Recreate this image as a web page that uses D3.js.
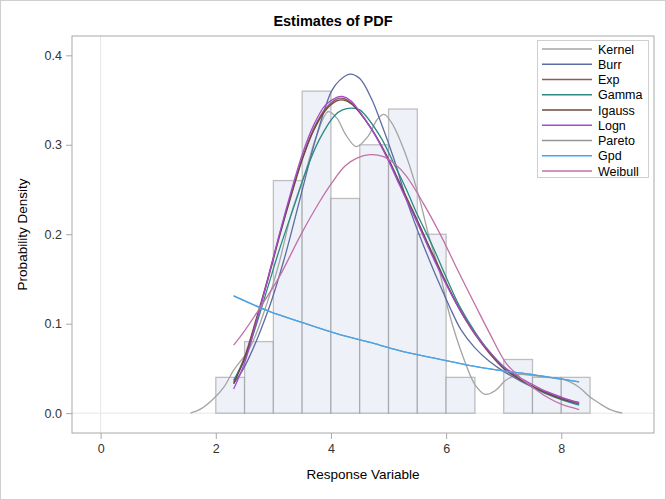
<!DOCTYPE html>
<html><head><meta charset="utf-8">
<script src="https://cdn.jsdelivr.net/npm/d3@7"></script>
<style>body{margin:0;background:#fff}svg{display:block}</style>
</head><body>
<svg id="c" width="666" height="500"></svg>
<script>
const binStart = [2,2.5,3,3.5,4,4.5,5,5.5,6,6.5,7,7.5,8];
const binHeight = [0.04,0.08,0.26,0.36,0.24,0.30,0.34,0.20,0.04,0,0.06,0.04,0.04];
const binWidth = 0.5;

const kernelX = [1.56,1.75,1.96,2.15,2.31,2.6,2.89,3.1,3.32,3.55,3.75,3.95,4.1,4.25,4.44,4.65,4.8,4.92,5.05,5.31,5.54,5.7,5.89,6.06,6.3,6.5,6.68,6.85,7.04,7.25,7.5,7.75,7.97,8.15,8.31,8.5,8.66,8.85,9.06];
const kernelY = [0.0,0.005,0.016,0.030,0.048,0.074,0.123,0.168,0.225,0.268,0.310,0.337,0.330,0.312,0.298,0.310,0.328,0.334,0.325,0.287,0.239,0.198,0.157,0.110,0.062,0.032,0.021,0.025,0.037,0.043,0.042,0.040,0.039,0.035,0.029,0.018,0.011,0.004,0.0];

const burrX = [2.31,2.5,2.91,3.2,3.46,3.75,4.01,4.15,4.33,4.5,4.7,4.85,5.1,5.31,5.5,5.71,5.9,6.06,6.26,6.5,6.75,7.04,7.5,8.0,8.31];
const burrY = [0.033,0.052,0.115,0.175,0.239,0.310,0.360,0.372,0.379,0.374,0.352,0.328,0.283,0.239,0.205,0.171,0.142,0.119,0.093,0.073,0.058,0.045,0.029,0.016,0.010];

const expX = [2.31,2.5,2.7,2.9,3.1,3.3,3.5,3.7,3.9,4.1,4.2,4.35,4.5,4.7,4.85,5.0,5.19,5.35,5.54,5.7,5.89,6.0,6.18,6.35,6.5,6.75,7.0,7.25,7.5,7.75,8.0,8.31];
const expY = [0.035,0.063,0.105,0.150,0.198,0.243,0.285,0.318,0.340,0.351,0.352,0.347,0.336,0.318,0.302,0.283,0.257,0.235,0.209,0.186,0.160,0.145,0.122,0.103,0.088,0.067,0.050,0.039,0.030,0.023,0.017,0.012];

const gammaX = [2.31,2.5,2.7,2.9,3.1,3.4,3.55,3.8,4.07,4.2,4.36,4.5,4.85,5.1,5.31,5.5,5.77,6.0,6.23,6.5,6.75,7.0,7.5,8.0,8.31];
const gammaY = [0.037,0.060,0.098,0.140,0.182,0.239,0.268,0.306,0.333,0.339,0.341,0.339,0.310,0.278,0.250,0.222,0.186,0.152,0.120,0.091,0.069,0.052,0.029,0.015,0.009];

const igaussX = [2.31,2.5,2.7,2.9,3.1,3.3,3.5,3.7,3.9,4.1,4.22,4.35,4.5,4.7,4.85,5.0,5.19,5.35,5.54,5.7,5.89,6.0,6.18,6.35,6.5,6.75,7.0,7.25,7.5,7.75,8.0,8.31];
const igaussY = [0.033,0.061,0.103,0.148,0.196,0.241,0.283,0.316,0.338,0.349,0.350,0.346,0.336,0.318,0.302,0.284,0.258,0.236,0.210,0.187,0.161,0.146,0.123,0.104,0.089,0.068,0.050,0.039,0.030,0.022,0.016,0.011];

const lognX = [2.31,2.5,2.7,2.9,3.1,3.3,3.5,3.7,3.9,4.1,4.2,4.35,4.5,4.7,4.85,5.0,5.19,5.35,5.54,5.7,5.89,6.0,6.18,6.35,6.5,6.75,7.0,7.25,7.5,7.75,8.0,8.31];
const lognY = [0.027,0.056,0.101,0.149,0.199,0.246,0.289,0.322,0.344,0.353,0.354,0.349,0.337,0.318,0.301,0.282,0.255,0.233,0.207,0.184,0.158,0.144,0.122,0.103,0.089,0.069,0.052,0.041,0.032,0.024,0.018,0.011];

const gpdX = [2.31,2.94,3.52,4.1,4.68,5.19,5.75,6.35,6.9,7.5,7.9,8.31];
const gpdY = [0.131,0.1135,0.101,0.089,0.079,0.070,0.062,0.054,0.048,0.043,0.039,0.035];
const paretoX = [2.31,2.94,3.52,4.1,4.68,5.19,5.75,6.35,6.9,7.5,7.9,8.31];
const paretoY = [0.131,0.1135,0.101,0.089,0.079,0.070,0.062,0.054,0.048,0.043,0.039,0.035];

const weibullX = [2.31,2.5,2.74,2.89,3.1,3.49,3.8,4.0,4.24,4.45,4.68,4.9,5.1,5.31,5.6,5.89,6.2,6.52,6.75,7.04,7.3,7.5,7.75,8.0,8.31];
const weibullY = [0.076,0.092,0.115,0.130,0.152,0.201,0.236,0.256,0.276,0.285,0.289,0.287,0.279,0.265,0.235,0.201,0.160,0.119,0.090,0.056,0.039,0.029,0.018,0.010,0.004];

const seriesNames = ["Kernel","Burr","Exp","Gamma","Igauss","Logn","Pareto","Gpd","Weibull"];
const seriesColors = ["#a4a4a4","#5d6ca2","#955a55","#2a8a86","#6c4a40","#a44ad0","#959595","#42a6f0","#c270a8"];
const seriesData = [[kernelX,kernelY],[burrX,burrY],[expX,expY],[gammaX,gammaY],[igaussX,igaussY],[lognX,lognY],[paretoX,paretoY],[gpdX,gpdY],[weibullX,weibullY]];

const xTicks = [0,2,4,6,8];
const yTicks = [0.0,0.1,0.2,0.3,0.4];

const svg = d3.select("#c");
const font = "'Liberation Sans', Arial, sans-serif";
const L = 72, R = 654, T = 36, B = 433;
const x = d3.scaleLinear().domain([-0.497, 9.61]).range([L, R]);
const y = d3.scaleLinear().domain([-0.0222, 0.4216]).range([B, T]);

svg.append("rect").attr("x",0.5).attr("y",0.5).attr("width",665).attr("height",499)
  .attr("fill","#fff").attr("stroke","#cfcfcf");

// reference lines
svg.append("line").attr("x1",x(0)).attr("x2",x(0)).attr("y1",T).attr("y2",B).attr("stroke","#e6e6e6");
svg.append("line").attr("x1",L).attr("x2",R).attr("y1",y(0)).attr("y2",y(0)).attr("stroke","#e6e6e6");

// histogram
svg.append("g").selectAll("rect").data(binStart).join("rect")
  .attr("x", (d) => x(d))
  .attr("width", x(binWidth) - x(0))
  .attr("y", (d,i) => y(binHeight[i]))
  .attr("height", (d,i) => y(0) - y(binHeight[i]))
  .attr("fill", "#eef2f8")
  .attr("stroke", "rgba(120,120,120,0.45)")
  .attr("stroke-width", 1.3)
  .attr("display", (d,i) => binHeight[i] > 0 ? null : "none");

// curves
const line = d3.line().x(d => x(d[0])).y(d => y(d[1])).curve(d3.curveCatmullRom.alpha(0.5));
seriesData.forEach((s, i) => {
  const pts = s[0].map((v, j) => [v, s[1][j]]);
  svg.append("path").datum(pts).attr("d", line).attr("fill","none")
    .attr("stroke", seriesColors[i]).attr("stroke-width", 1.3);
});

// frame
svg.append("rect").attr("x",L).attr("y",T).attr("width",R-L).attr("height",B-T)
  .attr("fill","none").attr("stroke","#a8a8a8");

// axes
const xAxis = svg.append("g").attr("transform",`translate(0,${B})`)
  .call(d3.axisBottom(x).tickValues(xTicks).tickSize(6).tickPadding(5).tickFormat(d3.format("d")));
const yAxis = svg.append("g").attr("transform",`translate(${L},0)`)
  .call(d3.axisLeft(y).tickValues(yTicks).tickSize(6).tickPadding(4).tickFormat(d3.format(".1f")));
[xAxis, yAxis].forEach(a => {
  a.select(".domain").remove();
  a.selectAll(".tick line").attr("stroke","#a8a8a8");
  a.selectAll(".tick text").attr("fill","#333").style("font-family",font).style("font-size","12.5px");
});

// titles
svg.append("text").attr("x",333).attr("y",26).attr("text-anchor","middle")
  .style("font-family",font).style("font-size","14.5px").style("font-weight","bold").attr("fill","#000")
  .text("Estimates of PDF");
svg.append("text").attr("x",(L+R)/2).attr("y",479).attr("text-anchor","middle")
  .style("font-family",font).style("font-size","13.5px").attr("fill","#000").text("Response Variable");
svg.append("text").attr("transform",`translate(27,${(T+B)/2}) rotate(-90)`).attr("text-anchor","middle")
  .style("font-family",font).style("font-size","13.5px").attr("fill","#000").text("Probability Density");

// legend
const lg = svg.append("g");
lg.append("rect").attr("x",537.5).attr("y",40.5).attr("width",111).attr("height",137)
  .attr("fill","#fff").attr("stroke","#cfcfcf");
seriesNames.forEach((n, i) => {
  const yy = 49 + i * 15.25;
  lg.append("line").attr("x1",542).attr("x2",592).attr("y1",yy).attr("y2",yy)
    .attr("stroke",seriesColors[i]).attr("stroke-width",1.5);
  lg.append("text").attr("x",598).attr("y",yy+4.5).style("font-family",font).style("font-size","12.5px")
    .attr("fill","#000").text(n);
});
</script>
</body></html>
